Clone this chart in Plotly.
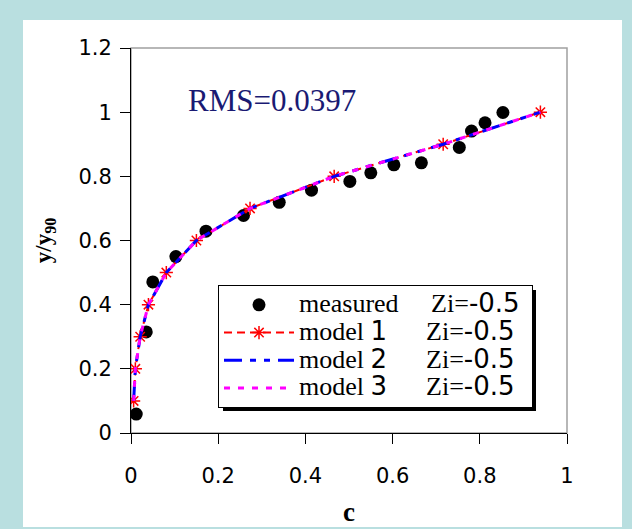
import plotly.graph_objects as go

# measured data
c_measured = [0.012, 0.035, 0.050, 0.103, 0.172, 0.258, 0.340, 0.414, 0.502, 0.550,
              0.603, 0.666, 0.753, 0.781, 0.812, 0.853]
y_measured = [0.059, 0.315, 0.471, 0.550, 0.629, 0.678, 0.719, 0.757, 0.784, 0.811,
              0.836, 0.842, 0.890, 0.941, 0.967, 0.999]

# model curves
c_model1 = [0.006, 0.010, 0.021, 0.040, 0.081, 0.150, 0.273, 0.466, 0.716, 0.939]
y_model1 = [0.1, 0.2, 0.3, 0.4, 0.5, 0.6, 0.7, 0.8, 0.9, 1.0]
c_model2 = [0.006, 0.010, 0.021, 0.040, 0.081, 0.150, 0.273, 0.466, 0.716, 0.939]
y_model2 = [0.1, 0.2, 0.3, 0.4, 0.5, 0.6, 0.7, 0.8, 0.9, 1.0]
c_model3 = [0.006, 0.010, 0.021, 0.040, 0.081, 0.150, 0.273, 0.466, 0.716, 0.939]
y_model3 = [0.1, 0.2, 0.3, 0.4, 0.5, 0.6, 0.7, 0.8, 0.9, 1.0]

x_ticks = [0, 0.2, 0.4, 0.6, 0.8, 1]
x_ticklabels = ["0", "0.2", "0.4", "0.6", "0.8", "1"]
y_ticks = [0, 0.2, 0.4, 0.6, 0.8, 1, 1.2]
y_ticklabels = ["0", "0.2", "0.4", "0.6", "0.8", "1", "1.2"]

SANS = "DejaVu Sans"
SERIF = "Liberation Serif"
NB = "\u00a0"
LEG_PX = 26

def lab(name, num, pad, tail=0):
    s = name
    if num:
        s += NB + f"<span style='font-family:{SANS}'>{num}</span>"
    s += NB * pad + f"Zi=<span style='font-family:{SANS}'>-0.5</span>" + NB * tail
    return f"<span style='font-size:{LEG_PX}px'>{s}</span>"

fig = go.Figure()
fig.add_trace(go.Scatter(
    x=c_measured, y=y_measured, mode="markers", name=lab("measured", "", 5, 1),
    marker=dict(symbol="circle", size=13, color="black"),
))
fig.add_trace(go.Scatter(
    x=c_model1, y=y_model1, mode="lines+markers", name=lab("model", "1", 6),
    line=dict(color="#ff0000", width=2, dash="8px,5px"),
    marker=dict(symbol="asterisk-open", size=11, color="#ff0000",
                line=dict(color="#ff0000", width=1.5)),
))
fig.add_trace(go.Scatter(
    x=c_model2, y=y_model2, mode="lines", name=lab("model", "2", 6),
    line=dict(color="#0000ff", width=3, dash="18px,8px,6px,8px,6px,8px"),
))
fig.add_trace(go.Scatter(
    x=c_model3, y=y_model3, mode="lines", name=lab("model", "3", 6),
    line=dict(color="#ff00ff", width=3, dash="6px,8px"),
))

L, R, T, B = 131, 65, 48, 96
W, H = 632, 529
pw, ph = W - L - R, H - T - B

def px_x(p):
    return (p - L) / pw

def px_y(p):
    return (H - B - p) / ph

shapes = [
    # white panel
    dict(type="rect", xref="paper", yref="paper", layer="below",
         x0=px_x(23), x1=px_x(622), y0=px_y(527), y1=px_y(20),
         fillcolor="white", line=dict(width=0)),
    # plot-area border (grey)
    dict(type="rect", xref="paper", yref="paper", layer="below",
         x0=0, x1=1, y0=0, y1=1, line=dict(color="#a0a0a0", width=1.5)),
    # legend shadow
    dict(type="rect", xref="paper", yref="paper", layer="above",
         x0=px_x(223), x1=px_x(536), y0=px_y(411), y1=px_y(290),
         fillcolor="black", line=dict(width=0)),
]

fig.update_layout(
    width=W, height=H,
    margin=dict(l=L, r=R, t=T, b=B, autoexpand=False),
    paper_bgcolor="#b9dfe0",
    plot_bgcolor="rgba(0,0,0,0)",
    shapes=shapes,
    showlegend=True,
    legend=dict(
        x=px_x(218), y=px_y(285), xanchor="left", yanchor="top",
        bgcolor="white", bordercolor="black", borderwidth=1,
        font=dict(family=SERIF, size=19, color="black"),
        itemwidth=70, tracegroupgap=0,
    ),
    annotations=[dict(
        text="RMS=0.0397", xref="paper", yref="paper",
        x=px_x(272), y=px_y(100), xanchor="center", yanchor="middle",
        showarrow=False, font=dict(family=SERIF, size=31, color="#1a1a73"),
    )],
)

fig.update_xaxes(
    range=[0, 1], tickvals=x_ticks, ticktext=x_ticklabels, automargin=False,
    showgrid=False, zeroline=False, showline=True, linecolor="black", linewidth=1,
    ticks="outside", ticklen=10, tickcolor="black", tickwidth=1,
    tickfont=dict(family=SANS, size=21, color="black"), ticklabelstandoff=14,
    title=dict(text="<b>c</b>", font=dict(family=SERIF, size=27, color="black"), standoff=14),
)
fig.update_yaxes(
    range=[0, 1.2], tickvals=y_ticks, ticktext=y_ticklabels, automargin=False,
    showgrid=False, zeroline=False, showline=True, linecolor="black", linewidth=1,
    ticks="outside", ticklen=10, tickcolor="black", tickwidth=1,
    tickfont=dict(family=SANS, size=21, color="black"), ticklabelstandoff=4,
    title=dict(text="<b>y/y<sub>90</sub></b>", font=dict(family=SERIF, size=23, color="black"), standoff=20),
)

fig.write_html("out.html")
